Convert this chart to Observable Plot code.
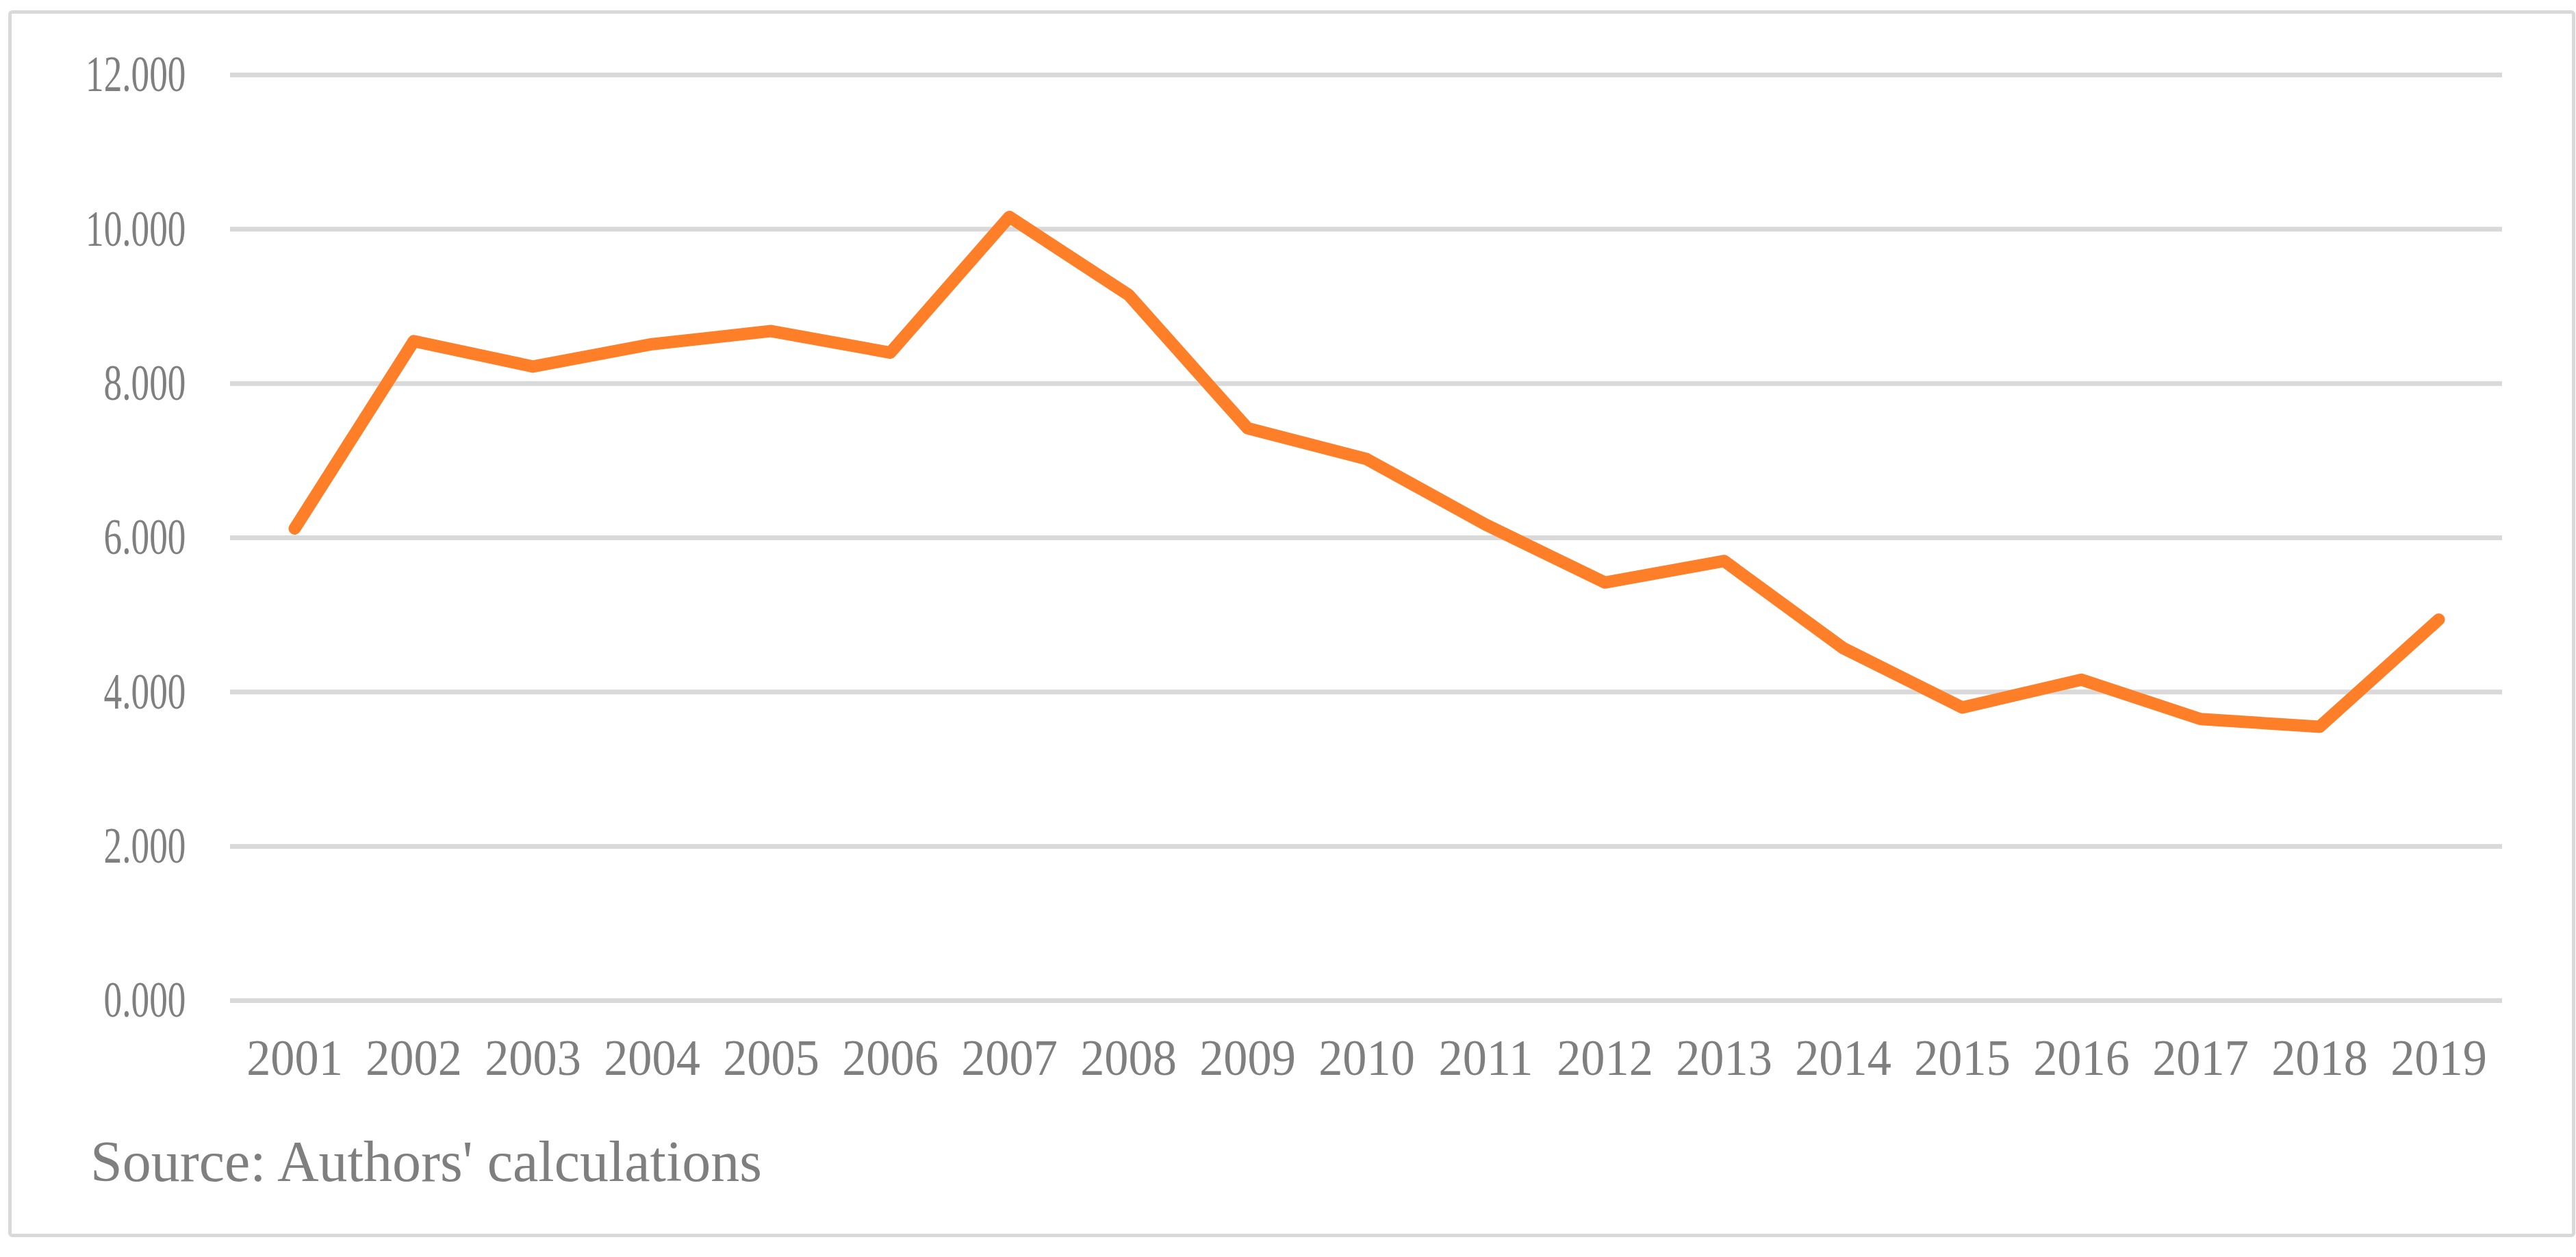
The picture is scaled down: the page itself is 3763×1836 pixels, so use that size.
<!DOCTYPE html>
<html>
<head>
<meta charset="utf-8">
<script src="https://cdn.jsdelivr.net/npm/d3@7"></script>
<script src="https://cdn.jsdelivr.net/npm/@observablehq/plot@0.6"></script>
<style>
  html, body { margin: 0; padding: 0; background: #ffffff; }
  #wrap { position: relative; width: 3763px; height: 1836px; background: #fff; overflow: hidden; }
  #border { position: absolute; left: 12px; top: 15px; width: 3740px; height: 1782px; border: 5px solid #d9d9d9; border-radius: 6px; box-sizing: content-box; }
  #chart { position: absolute; left: 0; top: 0; }
  #caption { position: absolute; left: 132px; top: 1655px; font-family: "Liberation Serif", "Times New Roman", serif; font-size: 84px; line-height: 84px; color: #7f7f7f; white-space: nowrap; }
</style>
</head>
<body>
<div id="wrap">
  <div id="border"></div>
  <div id="chart"></div>
  <div id="caption">Source: Authors' calculations</div>
</div>
<script>
const years = ["2001","2002","2003","2004","2005","2006","2007","2008","2009","2010","2011","2012","2013","2014","2015","2016","2017","2018","2019"];
const values = [6.12, 8.55, 8.22, 8.51, 8.68, 8.40, 10.16, 9.15, 7.42, 7.02, 6.17, 5.42, 5.70, 4.57, 3.80, 4.16, 3.65, 3.55, 4.94];
const yTicks = [0, 2, 4, 6, 8, 10, 12];

const data = years.map((y, i) => ({year: y, value: values[i]}));

const chart = Plot.plot({
  width: 3763,
  height: 1600,
  marginLeft: 336,
  marginRight: 108,
  marginTop: 109,
  marginBottom: 139,
  style: {
    fontFamily: "'Liberation Serif', 'Times New Roman', serif",
    fontSize: "74px",
    color: "#7f7f7f",
    background: "transparent"
  },
  x: { type: "point", domain: years, padding: 0.5, label: null },
  y: { domain: [0, 12], label: null },
  marks: [
    Plot.gridY(yTicks, { stroke: "#d9d9d9", strokeWidth: 7, strokeOpacity: 1 }),
    Plot.axisY(yTicks, { tickSize: 0, tickPadding: 65, tickFormat: d3.format(".3f"), label: null, fill: "#7f7f7f" }),
    Plot.axisX(years, { tickSize: 0, tickPadding: 56, label: null, fill: "#7f7f7f" }),
    Plot.line(data, { x: "year", y: "value", stroke: "#fe7f28", strokeWidth: 18, strokeLinejoin: "round", strokeLinecap: "round" })
  ]
});
document.getElementById("chart").appendChild(chart);

// Condense tick label glyphs horizontally, as in the reference rendering
chart.querySelectorAll("text").forEach(t => {
  const s = t.textContent.trim();
  let factor = null;
  if (/^\d+\.\d{3}$/.test(s)) factor = 0.72;
  else if (/^\d{4}$/.test(s)) factor = 0.95;
  if (factor == null) return;
  let w = 0;
  try { w = t.getComputedTextLength(); } catch (e) { w = 0; }
  if (!(w > 0)) { try { w = t.getBBox().width; } catch (e) { w = 0; } }
  if (w > 0) {
    t.setAttribute("textLength", (w * factor).toFixed(1));
    t.setAttribute("lengthAdjust", "spacingAndGlyphs");
  }
});
</script>
</body>
</html>
